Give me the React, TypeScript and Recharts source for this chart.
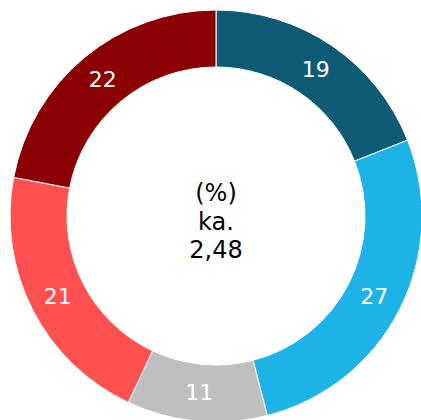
import React from 'react';
import { PieChart, Pie, Cell, Label } from 'recharts';

const categories = ['A', 'B', 'C', 'D', 'E'];
const shares = [19, 27, 11, 21, 22];
const colors = ['#0d5a75', '#1eb3e6', '#bfbfbf', '#ff5050', '#8b0000'];
const centerLines = ['(%)', 'ka.', '2,48'];

const data = categories.map((name, i) => ({ name, value: shares[i] }));

const FONT = '"DejaVu Sans", Verdana, sans-serif';
const RAD = Math.PI / 180;
const CX = 216;
const CY = 216;

const renderLabel = (props: any) => {
  const { cx, cy, midAngle, innerRadius, outerRadius, value } = props;
  const r = (innerRadius + outerRadius) / 2;
  const x = cx + r * Math.cos(-midAngle * RAD);
  const y = cy + r * Math.sin(-midAngle * RAD);
  return (
    <text x={x} y={y} fill="#ffffff" fontSize={22} fontFamily={FONT} textAnchor="middle" dominantBaseline="central">
      {value}
    </text>
  );
};

const CenterText = () => (
  <text x={CX} textAnchor="middle" fontSize={24} fontFamily={FONT} fill="#000000">
    {centerLines.map((line, i) => (
      <tspan key={i} x={CX} y={CY - 15 + i * 28.5}>
        {line}
      </tspan>
    ))}
  </text>
);

export default function App() {
  return (
    <div style={{ position: 'absolute', left: 0, top: 0, background: '#fff' }}>
      <PieChart width={421} height={420} margin={{ top: 0, right: 0, bottom: 0, left: 0 }}>
        <Pie
          data={data}
          dataKey="value"
          nameKey="name"
          cx={CX}
          cy={CY}
          innerRadius={149}
          outerRadius={206}
          startAngle={90}
          endAngle={-270}
          stroke="#ffffff"
          strokeWidth={1}
          label={renderLabel}
          labelLine={false}
          isAnimationActive={false}
        >
          {data.map((d, i) => (
            <Cell key={d.name} fill={colors[i]} />
          ))}
          <Label position="center" content={<CenterText />} />
        </Pie>
      </PieChart>
    </div>
  );
}
